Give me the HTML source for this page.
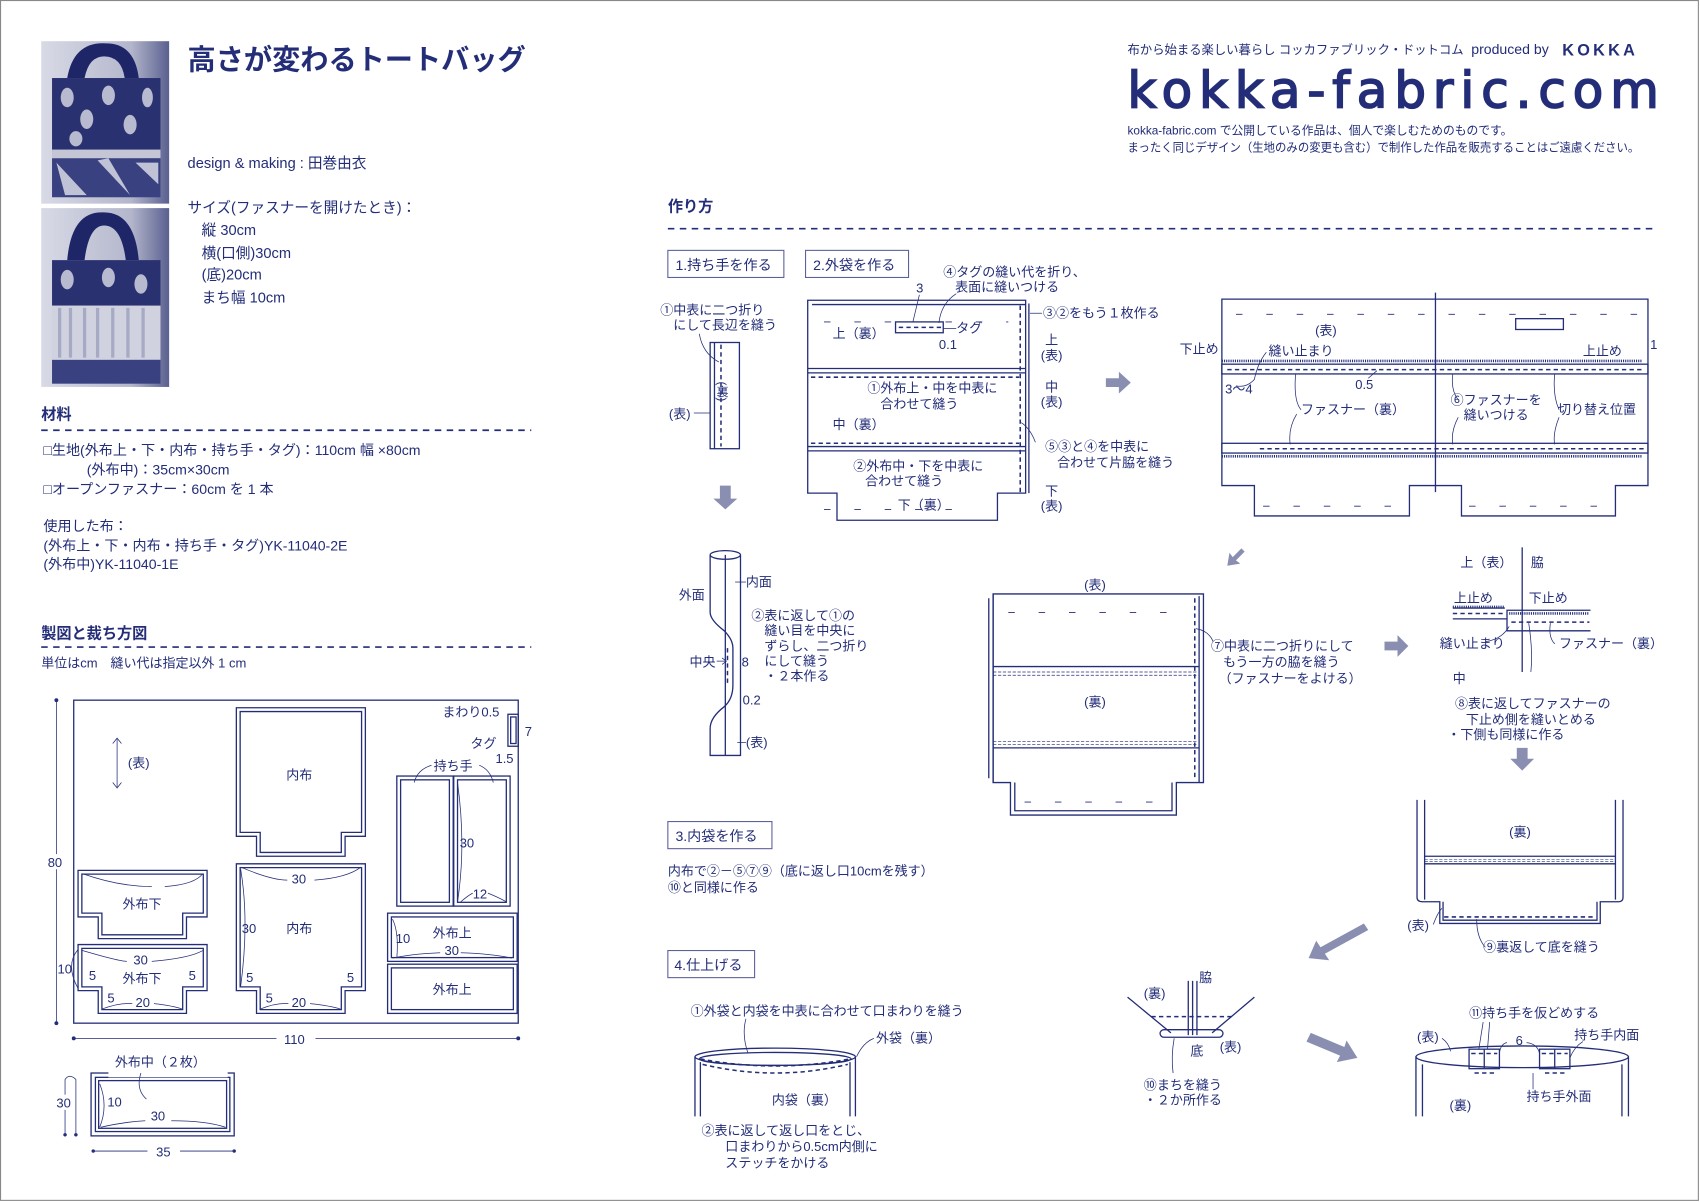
<!DOCTYPE html>
<html><head><meta charset="utf-8"><style>
html,body{margin:0;padding:0;background:#fff}
svg{display:block}
text{font-family:"Liberation Sans","Noto Sans CJK JP",sans-serif;fill:#232d78}
.s{stroke:#232d78;fill:none;stroke-width:1.2}
.w{stroke:#232d78;fill:#fff;stroke-width:1.2}
.t{stroke:#232d78;fill:none;stroke-width:0.7}
.d{stroke:#232d78;fill:none;stroke-width:1.4;stroke-dasharray:4 3}
.sd{stroke:#232d78;fill:none;stroke-width:1.6;stroke-dasharray:6 5}
.ar{fill:#8a8fb2}
</style></head><body>
<svg width="1700" height="1202" viewBox="0 0 1568 1109" preserveAspectRatio="none" xmlns="http://www.w3.org/2000/svg">
<rect x="0.5" y="0.5" width="1566" height="1107" fill="#fff" stroke="#888" stroke-width="1"/>

<!-- photos -->
<defs><linearGradient id="g1" x1="0" y1="0" x2="1" y2="0"><stop offset="0" stop-color="#d8dae6"/><stop offset="0.7" stop-color="#b4b7cc"/><stop offset="1" stop-color="#5a6090"/></linearGradient></defs>
<rect x="38" y="38" width="118" height="150" fill="url(#g1)"/>
<path d="M62 72 Q68 38 98 40 Q124 40 128 72 L115 72 Q112 52 96 52 Q82 52 78 72Z" fill="#1f2668"/>
<rect x="48" y="72" width="100" height="68" fill="#2a3170"/>
<rect x="48" y="138" width="100" height="8" fill="#c4c6d6"/>
<rect x="48" y="146" width="100" height="36" fill="#3a4180"/>
<path d="M52 150 L80 180 L60 180Z M90 148 L120 180 L100 146Z M125 150 L146 170 L146 150Z" fill="#c0c3d6"/>
<ellipse cx="62" cy="90" rx="6" ry="9" fill="#b8bbcf"/><ellipse cx="80" cy="110" rx="6" ry="9" fill="#b8bbcf"/><ellipse cx="100" cy="88" rx="6" ry="9" fill="#b8bbcf"/><ellipse cx="120" cy="115" rx="6" ry="9" fill="#b8bbcf"/><ellipse cx="136" cy="90" rx="5" ry="9" fill="#b8bbcf"/><ellipse cx="70" cy="128" rx="6" ry="7" fill="#b8bbcf"/>
<rect x="38" y="188" width="118" height="4" fill="#fff"/>
<rect x="38" y="192" width="118" height="165" fill="url(#g1)"/>
<path d="M62 240 Q66 194 96 196 Q124 196 128 240 L116 240 Q112 208 96 208 Q82 208 78 240Z" fill="#1f2668"/>
<rect x="48" y="240" width="100" height="42" fill="#2a3170"/>
<ellipse cx="62" cy="258" rx="6" ry="9" fill="#b8bbcf"/><ellipse cx="100" cy="256" rx="6" ry="9" fill="#b8bbcf"/><ellipse cx="130" cy="262" rx="6" ry="9" fill="#b8bbcf"/>
<rect x="48" y="282" width="100" height="50" fill="#d0d2e0"/>
<path d="M55 284 V330 M65 284 V330 M78 284 V330 M90 284 V330 M104 284 V330 M118 284 V330 M132 284 V330" stroke="#a6aac4" stroke-width="3"/>
<rect x="48" y="332" width="100" height="22" fill="#3a4180"/>

<!-- left text -->
<text x="173" y="64" font-size="26" font-weight="bold">高さが変わるトートバッグ</text>
<text x="173" y="155" font-size="13.5">design &amp; making : 田巻由衣</text>
<text x="173" y="196" font-size="13.5">サイズ(ファスナーを開けたとき)：</text>
<text x="186" y="217" font-size="13.5">縦 30cm</text>
<text x="186" y="238" font-size="13.5">横(口側)30cm</text>
<text x="186" y="258" font-size="13.5">(底)20cm</text>
<text x="186" y="279" font-size="13.5">まち幅 10cm</text>

<text x="38" y="387" font-size="14" font-weight="bold">材料</text>
<line x1="38" y1="397" x2="490" y2="397" class="sd"/>
<text x="40" y="420" font-size="13">□生地(外布上・下・内布・持ち手・タグ)：110cm 幅 ×80cm</text>
<text x="80" y="438" font-size="13">(外布中)：35cm×30cm</text>
<text x="40" y="456" font-size="13">□オープンファスナー：60cm を 1 本</text>
<text x="40" y="490" font-size="13">使用した布：</text>
<text x="40" y="508" font-size="13">(外布上・下・内布・持ち手・タグ)YK-11040-2E</text>
<text x="40" y="525" font-size="13">(外布中)YK-11040-1E</text>

<text x="38" y="589" font-size="14" font-weight="bold">製図と裁ち方図</text>
<line x1="38" y1="597" x2="490" y2="597" class="sd"/>
<text x="38" y="616" font-size="12">単位はcm　縫い代は指定以外 1 cm</text>

<!-- cutting layout -->
<rect x="68" y="646" width="410" height="298" class="s" stroke-width="1.5"/>
<line x1="52" y1="646" x2="52" y2="944" class="t"/><circle cx="52" cy="646" r="1.8" fill="#232d78"/><circle cx="52" cy="944" r="1.8" fill="#232d78"/>
<rect x="42" y="788" width="20" height="14" fill="#fff"/><text x="44" y="800" font-size="12">80</text>
<line x1="68" y1="958" x2="478" y2="958" class="t"/><circle cx="68" cy="958" r="1.8" fill="#232d78"/><circle cx="478" cy="958" r="1.8" fill="#232d78"/>
<rect x="255" y="950" width="36" height="16" fill="#fff"/><text x="262" y="963" font-size="12">110</text>
<path d="M108 682 V726 M104 686 L108 681 L112 686 M104 722 L108 727 L112 722" class="t" stroke-width="1"/>
<text x="118" y="708" font-size="12">(表)</text>

<g class="s">
<path d="M218 653 H337 V771.6 H318.3 V790 H236.6 V771.6 H218Z"/>
<path d="M221.5 656.5 H333.5 V768 H314.8 V786.5 H240 V768 H221.5Z"/>
<path d="M72 803 H191 V846 H172 V866 H90.6 V846 H72Z"/>
<path d="M75.5 806.5 H187.5 V842.5 H168.5 V862.5 H94 V842.5 H75.5Z"/>
<path d="M72 871.5 H191 V914 H172 V935 H90.6 V914 H72Z"/>
<path d="M75.5 875 H187.5 V910.5 H168.5 V931.5 H94 V910.5 H75.5Z"/>
<path d="M218 797 H337 V914 H318.3 V935 H236.6 V914 H218Z"/>
<path d="M221.5 800.5 H333.5 V910.5 H314.8 V931.5 H240 V910.5 H221.5Z"/>
<rect x="366" y="716" width="52" height="120"/><rect x="369.5" y="719.5" width="45" height="113"/>
<rect x="418.5" y="716" width="52" height="120"/><rect x="422" y="719.5" width="45" height="113"/>
<rect x="357.5" y="842.5" width="119.5" height="44.5"/><rect x="361" y="846" width="112.5" height="37.5"/>
<rect x="357.5" y="889.6" width="119.5" height="45.4"/><rect x="361" y="893" width="112.5" height="38.5"/>
<rect x="468.5" y="659" width="9.5" height="29.5"/><rect x="471" y="661.5" width="5" height="24.5"/>
</g>
<text x="264" y="719" font-size="12">内布</text>
<text x="113" y="838" font-size="12">外布下</text>
<text x="123" y="890" font-size="12">30</text>
<text x="113" y="907" font-size="12">外布下</text>
<text x="82" y="904" font-size="12">5</text><text x="174" y="904" font-size="12">5</text>
<text x="99" y="925" font-size="12">5</text><text x="125" y="929" font-size="12">20</text>
<text x="53" y="898" font-size="12">10</text>
<text x="269" y="815" font-size="12">30</text>
<text x="223" y="861" font-size="12">30</text><text x="264" y="861" font-size="12">内布</text>
<text x="227" y="906" font-size="12">5</text><text x="320" y="906" font-size="12">5</text>
<text x="245" y="925" font-size="12">5</text><text x="269" y="929" font-size="12">20</text>
<text x="424" y="782" font-size="12">30</text><text x="436" y="829" font-size="12">12</text>
<text x="400" y="711" font-size="12">持ち手</text>
<text x="408" y="661" font-size="12">まわり0.5</text><text x="434" y="690" font-size="12">タグ</text>
<text x="484" y="679" font-size="12">7</text><text x="457" y="704" font-size="12">1.5</text>
<text x="365" y="870" font-size="12">10</text><text x="399" y="865" font-size="12">外布上</text><text x="410" y="881" font-size="12">30</text>
<text x="399" y="917" font-size="12">外布上</text>
<g class="t">
<path d="M76 806 Q110 818 140 818 M152 818 Q180 816 187 806"/>
<path d="M222 800 Q250 812 265 812 M290 812 Q320 810 333 800"/>
<path d="M222 802 Q230 850 222 910"/>
<path d="M76 877 Q110 887 117 887 M140 887 Q175 884 187 877"/>
<path d="M94 931 Q110 925 122 926 M142 926 Q160 928 168 931"/>
<path d="M240 931 Q255 925 266 926 M286 926 Q305 928 314 931"/>
<path d="M422 722 Q430 780 422 832 M425 832 Q432 826 436 824 M450 824 Q460 828 467 832"/>
<path d="M362 848 Q368 860 366 884 M362 884 Q380 880 406 879 M425 879 Q455 880 472 884"/>
<path d="M398 706 Q385 710 382 722 M442 706 Q452 710 455 722"/>
<path d="M72 876 Q60 890 72 912"/>
</g>
<!-- outer middle -->
<g class="s">
<rect x="84" y="990" width="132" height="58"/>
<rect x="88" y="994" width="124" height="50"/>
<rect x="91" y="997" width="118" height="44"/>
</g>
<rect x="100" y="986" width="110" height="8" fill="#fff"/>
<text x="106" y="984" font-size="12">外布中（２枚）</text>
<text x="99" y="1021" font-size="12">10</text><text x="139" y="1034" font-size="12">30</text>
<path d="M92 1000 Q100 1020 92 1040 M93 1040 Q115 1035 134 1034 M158 1034 Q190 1034 208 1040 M130 990 Q125 1005 135 1014" class="t"/>
<path d="M60 1046 V996 Q64 990 70 996 V1046" class="t"/>
<circle cx="60" cy="1047" r="1.6" fill="#232d78"/><circle cx="70" cy="1047" r="1.6" fill="#232d78"/>
<rect x="50" y="1010" width="18" height="14" fill="#fff"/><text x="52" y="1022" font-size="12">30</text>
<line x1="86" y1="1062" x2="216" y2="1062" class="t"/><circle cx="86" cy="1062" r="1.6" fill="#232d78"/><circle cx="216" cy="1062" r="1.6" fill="#232d78"/>
<rect x="136" y="1054" width="30" height="16" fill="#fff"/><text x="144" y="1067" font-size="12">35</text>

<!-- header right -->
<text x="1040" y="50" font-size="11.5" textLength="310" lengthAdjust="spacingAndGlyphs">布から始まる楽しい暮らし コッカファブリック・ドットコム</text>
<text x="1357" y="50" font-size="13">produced by</text>
<text x="1441" y="51" font-size="15" font-weight="bold" letter-spacing="3">KOKKA</text>
<text x="1040" y="99" font-size="46" textLength="490" lengthAdjust="spacing" stroke="#232d78" stroke-width="1.6" style="font-family:'DejaVu Sans','Liberation Sans',sans-serif">kokka-fabric.com</text>
<text x="1040" y="124" font-size="11" textLength="355" lengthAdjust="spacingAndGlyphs">kokka-fabric.com で公開している作品は、個人で楽しむためのものです。</text>
<text x="1040" y="140" font-size="11" textLength="472" lengthAdjust="spacingAndGlyphs">まったく同じデザイン（生地のみの変更も含む）で制作した作品を販売することはご遠慮ください。</text>

<text x="616" y="195" font-size="14" font-weight="bold">作り方</text>
<line x1="616" y1="211" x2="1527" y2="211" class="sd"/>

<!-- step boxes -->
<rect x="616" y="231" width="107" height="25" fill="none" stroke="#5a619a" stroke-width="1"/>
<text x="623" y="249" font-size="13">1.持ち手を作る</text>
<rect x="743" y="231" width="95" height="25" fill="none" stroke="#5a619a" stroke-width="1"/>
<text x="750" y="249" font-size="13">2.外袋を作る</text>
<rect x="616" y="758" width="96" height="25" fill="none" stroke="#5a619a" stroke-width="1"/>
<text x="623" y="776" font-size="13">3.内袋を作る</text>
<rect x="616" y="877" width="80" height="25" fill="none" stroke="#5a619a" stroke-width="1"/>
<text x="622" y="895" font-size="13">4.仕上げる</text>

<!-- step1 -->
<g class="s"><rect x="655" y="316" width="27" height="98"/><line x1="659" y1="316" x2="659" y2="414"/></g>
<line x1="665" y1="318" x2="665" y2="412" class="d" stroke-width="1"/>
<text x="609" y="290" font-size="12">①中表に二つ折り</text>
<text x="621" y="304" font-size="12">にして長辺を縫う</text>
<path d="M645 308 Q648 326 663 334" class="t"/>
<text x="666" y="352" font-size="11" writing-mode="tb">(裏)</text>
<text x="617" y="386" font-size="12">(表)</text><line x1="640" y1="381" x2="655" y2="381" class="t"/>
<path d="M664 448 V460 H658 L669 470 L680 460 H674 V448Z" class="ar"/>

<!-- strap2 -->
<g class="s">
<path d="M655 512 V565 Q655 572 668 582 Q676 590 676 598 V632 Q676 645 668 652 Q655 662 655 672 V697 H683 V512"/>
<ellipse cx="669" cy="512" rx="14" ry="4"/>
<line x1="669" y1="512" x2="669" y2="697"/>
</g>
<line x1="671" y1="598" x2="671" y2="632" class="d" stroke-width="1.2"/>
<text x="626" y="553" font-size="12">外面</text><text x="688" y="541" font-size="12">内面</text>
<line x1="678" y1="537" x2="688" y2="537" class="t"/>
<text x="693" y="572" font-size="12">②表に返して①の</text>
<text x="705" y="586" font-size="12">縫い目を中央に</text>
<text x="705" y="600" font-size="12">ずらし、二つ折り</text>
<text x="705" y="614" font-size="12">にして縫う</text>
<text x="705" y="628" font-size="12">・２本作る</text>
<text x="636" y="615" font-size="12">中央</text><path d="M661 610 H670 M666 607 L670 610 L666 613" class="t"/>
<text x="684" y="615" font-size="12">8</text><text x="685" y="650" font-size="12">0.2</text>
<text x="688" y="689" font-size="12">(表)</text><line x1="680" y1="685" x2="688" y2="685" class="t"/>

<!-- step2 pattern -->
<g class="s">
<path d="M745 277 H946 V455 H920 V480 H772 V455 H745Z"/>
<path d="M749 281 H946"/>
<line x1="745" y1="340" x2="946" y2="340"/><line x1="745" y1="344" x2="946" y2="344"/>
<line x1="745" y1="412" x2="946" y2="412"/><line x1="745" y1="416" x2="946" y2="416"/>
<line x1="949" y1="280" x2="949" y2="455"/>
<rect x="826" y="297" width="44" height="10"/>
</g>
<line x1="941" y1="282" x2="941" y2="455" class="d"/>
<line x1="748" y1="348" x2="940" y2="348" class="d"/>
<line x1="748" y1="409" x2="940" y2="409" class="d"/>
<line x1="829" y1="302" x2="868" y2="302" class="d" stroke-width="1"/>
<path d="M760 297 H930 M760 470 H900" stroke="#232d78" stroke-width="0.8" stroke-dasharray="6 22"/>
<text x="768" y="312" font-size="12">上（裏）</text>
<text x="768" y="396" font-size="12">中（裏）</text>
<text x="828" y="470" font-size="12">下（裏）</text>
<text x="800" y="362" font-size="12">①外布上・中を中表に</text>
<text x="812" y="377" font-size="12">合わせて縫う</text>
<text x="787" y="434" font-size="12">②外布中・下を中表に</text>
<text x="798" y="448" font-size="12">合わせて縫う</text>
<text x="870" y="255" font-size="12">④タグの縫い代を折り、</text>
<text x="881" y="269" font-size="12">表面に縫いつける</text>
<text x="845" y="270" font-size="12">3</text><text x="866" y="322" font-size="12">0.1</text>
<text x="882" y="307" font-size="12">タグ</text><line x1="870" y1="303" x2="882" y2="303" class="t"/>
<text x="962" y="293" font-size="12">③②をもう１枚作る</text><line x1="950" y1="289" x2="961" y2="289" class="t"/>
<text x="964" y="318" font-size="12">上</text><text x="960" y="332" font-size="12">(表)</text>
<text x="964" y="361" font-size="12">中</text><text x="960" y="375" font-size="12">(表)</text>
<text x="964" y="416" font-size="12">⑤③と④を中表に</text><text x="975" y="431" font-size="12">合わせて片脇を縫う</text>
<text x="964" y="457" font-size="12">下</text><text x="960" y="471" font-size="12">(表)</text>
<path d="M882 271 Q868 280 866 298 M848 272 L842 297 M955 408 Q950 395 942 390" class="t"/>
<path d="M1020 349 H1032 V343 L1043 353 L1032 363 V357 H1020Z" class="ar"/>

<!-- step2b -->
<g class="s">
<path d="M1127 276 H1520 V448 H1490 V476 H1348 V448 H1300 V476 H1157 V448 H1127Z"/>
<line x1="1324" y1="270" x2="1324" y2="454"/>
<rect x="1127" y="336" width="393" height="9"/>
<rect x="1127" y="409" width="393" height="9"/>
<rect x="1398" y="294" width="44" height="10"/>
</g>
<path d="M1127 333 H1515 M1127 421 H1515" stroke="#232d78" stroke-width="2.4" stroke-dasharray="1 1"/>
<line x1="1132" y1="341" x2="1517" y2="341" class="d"/>
<line x1="1162" y1="414" x2="1517" y2="414" class="d"/>
<path d="M1140 290 H1510 M1165 467 H1300 M1355 467 H1485" stroke="#232d78" stroke-width="0.8" stroke-dasharray="6 22"/>
<text x="1213" y="309" font-size="12">(表)</text>
<text x="1088" y="326" font-size="12">下止め</text>
<text x="1170" y="328" font-size="12">縫い止まり</text>
<text x="1460" y="328" font-size="12">上止め</text>
<text x="1522" y="322" font-size="12">1</text>
<text x="1130" y="363" font-size="12">3～4</text>
<text x="1250" y="359" font-size="12">0.5</text>
<text x="1200" y="382" font-size="12">ファスナー（裏）</text>
<text x="1338" y="373" font-size="12">⑥ファスナーを</text>
<text x="1350" y="387" font-size="12">縫いつける</text>
<text x="1437" y="382" font-size="12">切り替え位置</text>
<path d="M1168 325 Q1160 335 1157 350 Q1150 358 1140 356 M1200 378 Q1193 370 1195 345 M1196 382 Q1188 395 1190 410 M1345 369 Q1338 360 1340 345 M1345 385 Q1338 398 1340 410 M1438 378 Q1432 365 1434 345 M1438 385 Q1432 400 1434 410 M1262 349 L1270 342" class="t"/>
<path d="M1145 506 L1137 514 L1134 510 L1132 522 L1144 520 L1140 517 L1148 509Z" class="ar"/>

<!-- step7 -->
<g class="s">
<path d="M916 548 H1110 V722 H1085 V752 H932 V722 H916Z"/>
<path d="M912 552 V718 M916 548 V722" />
<line x1="1106" y1="550" x2="1106" y2="722"/>
<line x1="916" y1="615" x2="1106" y2="615"/><line x1="916" y1="690" x2="1106" y2="690"/>
<path d="M936 722 V748 H1081 V722"/>
</g>
<path d="M916 620 H1104 M916 623 H1104 M916 684 H1104 M916 687 H1104" stroke="#232d78" stroke-width="0.6" stroke-dasharray="3 1.5"/>
<line x1="1102" y1="552" x2="1102" y2="720" class="d"/>
<path d="M930 565 H1090 M945 740 H1075" stroke="#232d78" stroke-width="0.8" stroke-dasharray="6 22"/>
<text x="1000" y="544" font-size="12">(表)</text>
<text x="1000" y="652" font-size="12">(裏)</text>
<text x="1117" y="600" font-size="12">⑦中表に二つ折りにして</text>
<text x="1128" y="615" font-size="12">もう一方の脇を縫う</text>
<text x="1124" y="630" font-size="12">（ファスナーをよける）</text>
<path d="M1103 580 Q1115 582 1119 592" class="t"/>
<path d="M1277 592 H1289 V586 L1299 596 L1289 606 V600 H1277Z" class="ar"/>

<!-- step8 -->
<line x1="1404" y1="505" x2="1404" y2="620" class="s"/>
<g class="s">
<path d="M1340 571 H1390 V582 H1467 M1390 571 V563 H1467 M1340 561 H1388"/>
</g>
<path d="M1340 560 H1388 M1392 566 H1466" stroke="#232d78" stroke-width="2.4" stroke-dasharray="1 1"/>
<path d="M1340 566 H1388 M1394 574 H1466" class="d"/>
<text x="1347" y="523" font-size="12">上（表）</text><text x="1412" y="523" font-size="12">脇</text>
<text x="1341" y="556" font-size="12">上止め</text><text x="1410" y="556" font-size="12">下止め</text>
<text x="1328" y="598" font-size="12">縫い止まり</text><text x="1438" y="598" font-size="12">ファスナー（裏）</text>
<text x="1340" y="630" font-size="12">中</text>
<text x="1342" y="653" font-size="12">⑧表に返してファスナーの</text>
<text x="1352" y="668" font-size="12">下止め側を縫いとめる</text>
<text x="1335" y="682" font-size="12">・下側も同様に作る</text>
<path d="M1370 592 Q1385 590 1392 578 M1434 594 Q1428 588 1430 575 M1412 620 Q1414 600 1410 575" class="t"/>
<path d="M1399 690 V700 H1393 L1404 711 L1415 700 H1409 V690Z" class="ar"/>

<!-- step9 -->
<g class="s">
<path d="M1307 738 V828 Q1307 832 1312 832 H1328 V852 H1476 V832 H1493 Q1497 832 1497 828 V738"/>
<path d="M1314 738 V830 M1490 738 V830 M1331 832 V849 H1473 V832"/>
<line x1="1314" y1="790" x2="1490" y2="790"/><line x1="1314" y1="797" x2="1490" y2="797"/>
</g>
<path d="M1314 793 H1490 M1314 795 H1490" stroke="#232d78" stroke-width="0.5" stroke-dasharray="3 1.5"/>
<line x1="1332" y1="846" x2="1472" y2="846" class="d"/>
<text x="1392" y="772" font-size="12">(裏)</text>
<text x="1298" y="858" font-size="12">(表)</text>
<text x="1368" y="878" font-size="12">⑨裏返して底を縫う</text>
<path d="M1322 853 Q1326 842 1330 838 M1370 874 Q1362 865 1362 848" class="t"/>
<path d="M1258 852 L1262 858 L1222 880 L1226 886 L1207 884 L1214 868 L1218 874Z" class="ar"/>

<!-- step3 text -->
<text x="616" y="808" font-size="12">内布で②－⑤⑦⑨（底に返し口10cmを残す）</text>
<text x="616" y="823" font-size="12">⑩と同様に作る</text>

<!-- step4 -->
<text x="637" y="937" font-size="12">①外袋と内袋を中表に合わせて口まわりを縫う</text>
<g class="s">
<ellipse cx="715" cy="975" rx="74" ry="8"/>
<ellipse cx="715" cy="977" rx="70" ry="6"/>
<path d="M641 975 V1030 M646 980 V1030 M789 975 V1030 M784 980 V1030"/>
</g>
<path d="M648 982 Q715 998 782 982" class="d"/>
<path d="M646 977 Q715 990 784 977" class="d" stroke-width="1"/>
<text x="808" y="962" font-size="12">外袋（裏）</text>
<text x="712" y="1019" font-size="12">内袋（裏）</text>
<text x="647" y="1047" font-size="12">②表に返して返し口をとじ、</text>
<text x="669" y="1062" font-size="12">口まわりから0.5cm内側に</text>
<text x="669" y="1077" font-size="12">ステッチをかける</text>
<path d="M688 940 Q684 955 690 972 M806 958 Q796 962 790 975" class="t"/>

<!-- step10 -->
<g class="s">
<path d="M1040 920 L1080 953 M1157 920 L1118 953"/>
<path d="M1096 905 V955 M1100 905 V955 M1104 905 V955"/>
<rect x="1070" y="950" width="58" height="7" rx="3.5"/>
</g>
<line x1="1062" y1="938" x2="1136" y2="938" class="d"/>
<text x="1055" y="921" font-size="12">(裏)</text><text x="1106" y="906" font-size="12">脇</text>
<text x="1098" y="974" font-size="12">底</text><text x="1125" y="970" font-size="12">(表)</text>
<text x="1055" y="1005" font-size="12">⑩まちを縫う</text><text x="1055" y="1019" font-size="12">・２か所作る</text>
<path d="M1083 958 Q1080 975 1082 990" class="t"/>
<path d="M1209 953 L1240 966 L1242 960 L1252 976 L1233 980 L1236 974 L1205 961Z" class="ar"/>

<!-- step11 -->
<g class="s">
<ellipse cx="1404" cy="975" rx="98" ry="10"/>
<path d="M1306 975 V1030 M1312 982 V1030 M1502 975 V1030 M1496 982 V1030"/>
<rect x="1355" y="968" width="28" height="18"/><rect x="1420" y="968" width="28" height="18"/>
<line x1="1369" y1="968" x2="1369" y2="986"/><line x1="1434" y1="968" x2="1434" y2="986"/>
</g>
<path d="M1357 972 H1381 M1422 972 H1446 M1360 990 H1378 M1425 990 H1443" class="d" stroke-width="1"/>
<text x="1355" y="939" font-size="12">⑪持ち手を仮どめする</text>
<text x="1307" y="961" font-size="12">(表)</text><text x="1398" y="964" font-size="12">6</text>
<text x="1452" y="959" font-size="12">持ち手内面</text>
<text x="1408" y="1016" font-size="12">持ち手外面</text>
<text x="1337" y="1024" font-size="12">(裏)</text>
<path d="M1368 943 L1364 968 M1374 943 L1372 968 M1390 962 Q1384 963 1383 972 M1408 962 Q1418 963 1420 972 M1460 961 Q1452 966 1448 976 M1414 1005 L1414 990 M1330 958 Q1336 962 1338 970" class="t"/>
</svg>
</body></html>
